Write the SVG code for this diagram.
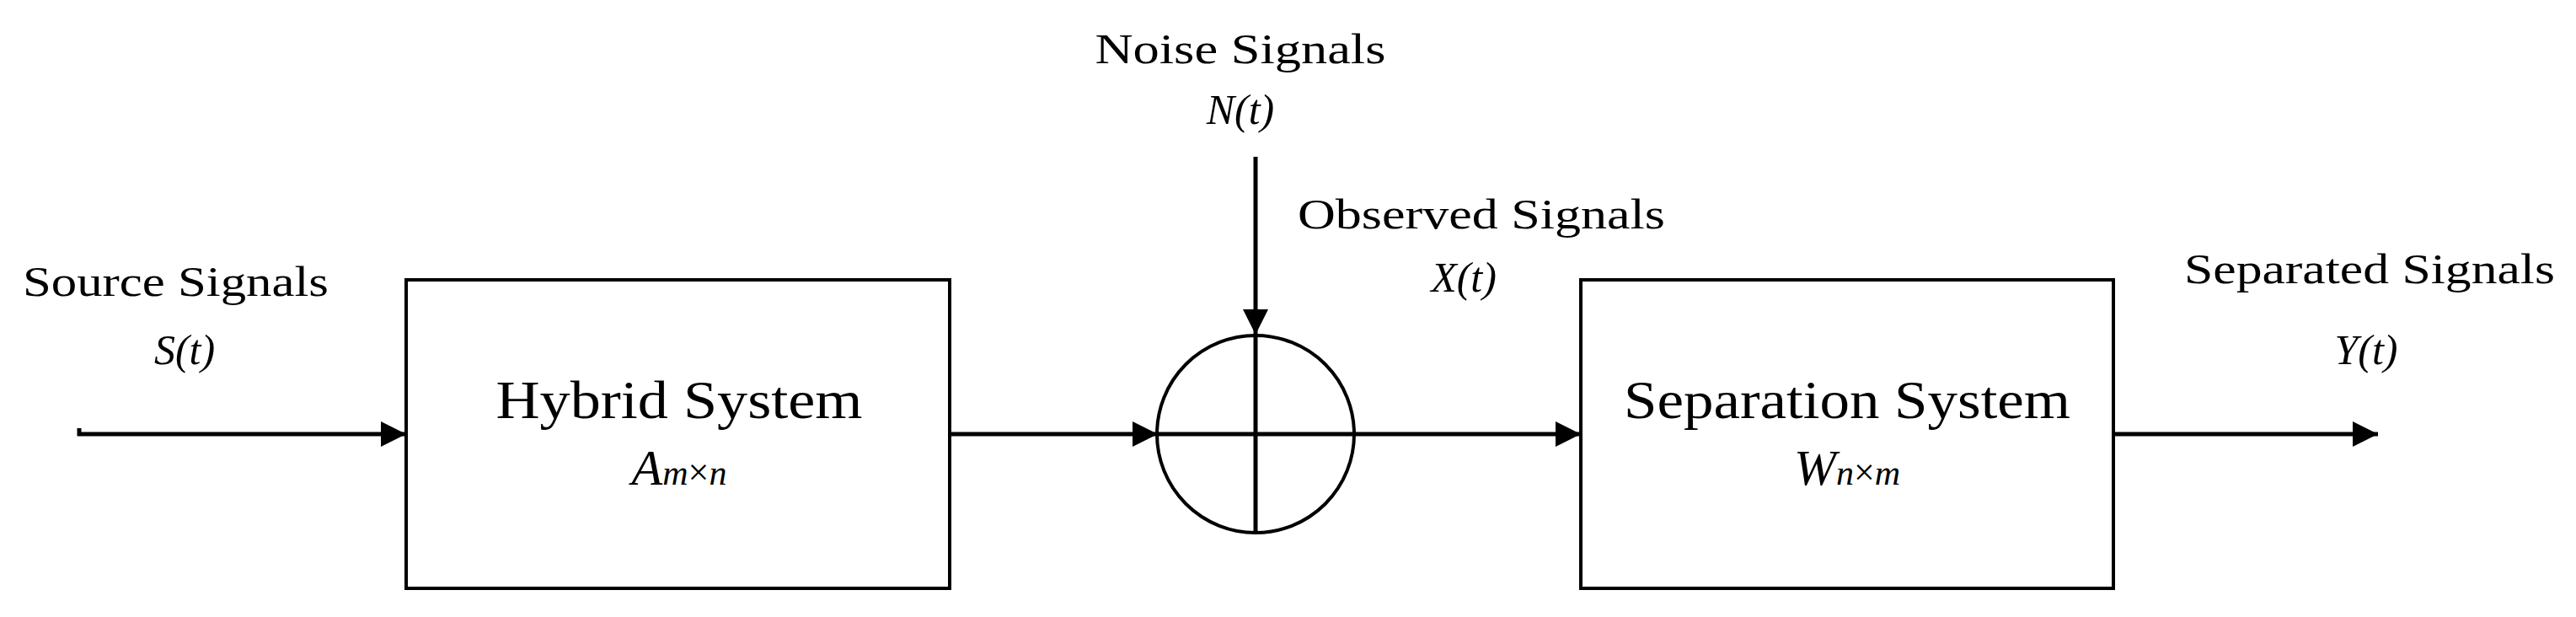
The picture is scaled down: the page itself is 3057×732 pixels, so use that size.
<svg xmlns="http://www.w3.org/2000/svg" width="3057" height="732" viewBox="0 0 3057 732">
<style>
text{font-family:"Liberation Serif","DejaVu Serif",serif;fill:#000}
.l{font-size:50px}
.b{font-size:64px}
.i{font-style:italic}
.box{fill:#fff;stroke:#000;stroke-width:4}
.ln{stroke:#000;stroke-width:5;fill:none}
</style>
<defs><marker id="a" viewBox="0 0 10 10" refX="10" refY="5" markerWidth="6" markerHeight="7" markerUnits="strokeWidth" orient="auto"><path d="M0,0L10,5L0,10z" fill="#000"/></marker></defs>
<rect width="3057" height="732" fill="#fff"/>
<g id="connectors">
<path class="ln" d="M94,508V515H482" marker-end="url(#a)"/>
<path class="ln" d="M1127,515H1374" marker-end="url(#a)"/>
<path class="ln" d="M1490,186V397" marker-end="url(#a)"/>
<path class="ln" d="M1606,515H1876" marker-end="url(#a)"/>
<path class="ln" d="M2508,515H2822" marker-end="url(#a)"/>
</g>
<g id="source"><text class="l" x="27" y="351" textLength="363" lengthAdjust="spacingAndGlyphs">Source Signals</text><text class="l i" x="219" y="432" text-anchor="middle">S(t)</text></g>
<g id="hybrid"><rect class="box" x="482" y="332" width="645" height="366"/><text class="b" x="806" y="496" text-anchor="middle" textLength="435" lengthAdjust="spacingAndGlyphs">Hybrid System</text><text class="i" font-size="60" x="806" y="575" text-anchor="middle">A<tspan font-size="42">m</tspan><tspan font-style="normal" font-size="44">×</tspan><tspan font-size="42">n</tspan></text></g>
<g id="noise"><text class="l" x="1472" y="75" text-anchor="middle" textLength="345" lengthAdjust="spacingAndGlyphs">Noise Signals</text><text class="l i" x="1472" y="147" text-anchor="middle">N(t)</text></g>
<g id="sum"><circle cx="1490" cy="515" r="117" fill="none" stroke="#000" stroke-width="4"/><path class="ln" stroke-width="4" d="M1490,398V632M1373,515H1607"/></g>
<g id="observed"><text class="l" x="1540" y="271" textLength="436" lengthAdjust="spacingAndGlyphs">Observed Signals</text><text class="l i" x="1737" y="346" text-anchor="middle">X(t)</text></g>
<g id="separation"><rect class="box" x="1876" y="332" width="632" height="366"/><text class="b" x="2192" y="496" text-anchor="middle" textLength="530" lengthAdjust="spacingAndGlyphs">Separation System</text><text class="i" font-size="60" x="2192" y="575" text-anchor="middle">W<tspan font-size="42">n</tspan><tspan font-style="normal" font-size="44">×</tspan><tspan font-size="42">m</tspan></text></g>
<g id="separated"><text class="l" x="2592" y="336" textLength="440" lengthAdjust="spacingAndGlyphs">Separated Signals</text><text class="l i" x="2808" y="432" text-anchor="middle">Y(t)</text></g>
</svg>
